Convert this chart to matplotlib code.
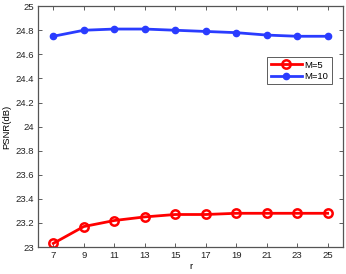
import matplotlib
matplotlib.use("Agg")
import matplotlib.pyplot as plt

r = [7, 9, 11, 13, 15, 17, 19, 21, 23, 25]
psnr_m5 = [23.03, 23.17, 23.22, 23.25, 23.27, 23.27, 23.28, 23.28, 23.28, 23.28]
psnr_m10 = [24.75, 24.80, 24.81, 24.81, 24.80, 24.79, 24.78, 24.76, 24.75, 24.75]
yticks = [23, 23.2, 23.4, 23.6, 23.8, 24, 24.2, 24.4, 24.6, 24.8, 25]
ytick_labels = ["23", "23.2", "23.4", "23.6", "23.8", "24", "24.2", "24.4", "24.6", "24.8", "25"]

plt.rcParams['font.family'] = ['Liberation Sans', 'DejaVu Sans']
fig = plt.figure(figsize=(3.46, 2.74), dpi=100)
ax = fig.add_axes([0.110, 0.0985, 0.881, 0.879])

ax.plot(r, psnr_m5, color='#ff0000', lw=2, marker='o', ms=6, mfc='none', mec='#ff0000', mew=1.8, label='M=5')
ax.plot(r, psnr_m10, color='#2a3cff', lw=2, marker='o', ms=4.5, mfc='#2a3cff', mec='#2a3cff', label='M=10')

ax.set_xlim(6, 26)
ax.set_ylim(23, 25)
ax.set_xticks(r)
ax.set_yticks(yticks)
ax.set_yticklabels(ytick_labels)
ax.tick_params(direction='in', top=True, right=True, labelsize=6.8, length=3, width=0.6, colors='#444444', labelcolor='#222222', pad=3)
for s in ax.spines.values():
    s.set_color('#555555')
    s.set_linewidth(0.9)
ax.set_xlabel('r', fontsize=6.8, labelpad=1)
ax.set_ylabel('PSNR(dB)', fontsize=6.8, labelpad=3)

leg = ax.legend(loc='upper right', bbox_to_anchor=(0.964, 0.788), borderaxespad=0, fontsize=6.8, frameon=True, fancybox=False,
                edgecolor='#333333', handlelength=3.3, borderpad=0.35, labelspacing=0.25, handletextpad=0.3)
leg.get_frame().set_linewidth(0.7)

fig.savefig('out.png', dpi=100)
